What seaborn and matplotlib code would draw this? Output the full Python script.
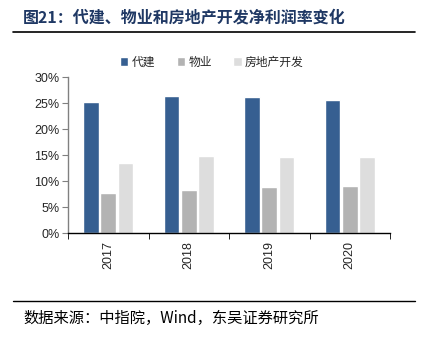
import matplotlib
matplotlib.use("Agg")
import matplotlib.pyplot as plt
import seaborn as sns
import pandas as pd
from matplotlib.ticker import FixedLocator, PercentFormatter

years = ["2017", "2018", "2019", "2020"]
series_names = ["代建", "物业", "房地产开发"]
daijian = [25.2, 26.3, 26.1, 25.5]
wuye = [7.7, 8.3, 8.8, 9.0]
fangdichan = [13.5, 14.8, 14.6, 14.6]
colors = ["#365F91", "#B3B3B3", "#DDDDDD"]

rows = []
for name, vals in zip(series_names, [daijian, wuye, fangdichan]):
    for y, v in zip(years, vals):
        rows.append({"year": y, "series": name, "value": v})
df = pd.DataFrame(rows)

sns.set_style("white")
plt.rcParams['font.family'] = ['Noto Sans CJK SC', 'DejaVu Sans']

fig = plt.figure(figsize=(4.24, 3.39), dpi=100)
ax = fig.add_axes([68/424, 1-233/339, (390-68)/424, (233-77)/339])

sns.barplot(data=df, x="year", y="value", hue="series", palette=colors,
            width=0.64, gap=0.08, ax=ax, legend=True, saturation=1)

ax.set_ylim(0, 30)
ax.set_xlim(-0.5, 3.5)
ax.set_yticks([0, 5, 10, 15, 20, 25, 30])
ax.yaxis.set_major_formatter(PercentFormatter(decimals=0))
ax.set_xlabel("")
ax.set_ylabel("")
for s in ["top", "right"]:
    ax.spines[s].set_visible(False)
ax.spines["left"].set_color("#808080")
ax.spines["left"].set_linewidth(1.0)
ax.spines["bottom"].set_color("black")
ax.spines["bottom"].set_linewidth(1.0)
ax.tick_params(axis="y", left=True, length=4, color="#808080", labelsize=9, pad=2)
for lab in ax.get_yticklabels():
    lab.set_fontfamily("Liberation Sans")
ax.set_xticks(range(4))
ax.set_xticklabels(years, rotation=90, fontsize=9, fontfamily="Liberation Sans")
ax.tick_params(axis="x", which="major", bottom=False, length=0, pad=6)
ax.xaxis.set_minor_locator(FixedLocator([-0.5, 0.5, 1.5, 2.5, 3.5]))
ax.tick_params(axis="x", which="minor", bottom=True, length=4, color="black")

leg = ax.legend(loc="center", bbox_to_anchor=((212-68)/322, (233-62)/156), ncol=3,
                frameon=False, fontsize=8.5, handlelength=0.7, handleheight=0.7,
                handletextpad=0.3, columnspacing=1.8, borderaxespad=0)

fig.text(23/424, 1-18/339, "图21：代建、物业和房地产开发净利润率变化", fontsize=11.5,
         fontweight="bold", color="#1F3864", va="center", ha="left")
fig.add_artist(plt.Line2D([13/424, 415/424], [1-32/339, 1-32/339], color="black", lw=1.2))
fig.add_artist(plt.Line2D([13/424, 415/424], [1-301/339, 1-301/339], color="black", lw=1.0))
fig.text(23/424, 1-318/339, "数据来源：中指院，Wind，东吴证券研究所", fontsize=11,
         color="black", va="center", ha="left")

fig.savefig("out.png", dpi=100)
